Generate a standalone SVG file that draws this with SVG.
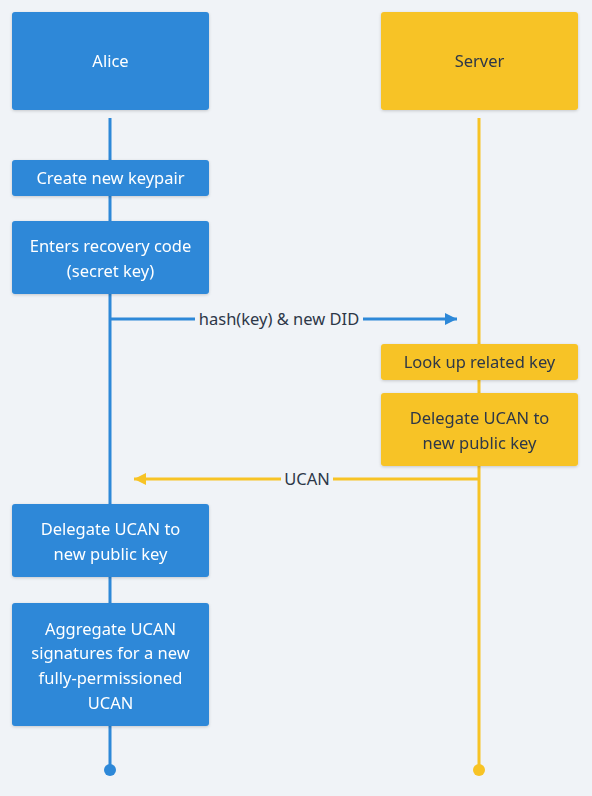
<svg xmlns="http://www.w3.org/2000/svg" width="592" height="796" viewBox="0 0 592 796">
<defs>
<style>
.bg{fill:#F0F3F7}
.a{fill:#2D88D8}
.s{fill:#F7C325}
.box{filter:url(#sh)}
.tw{font-family:"Noto Sans","Liberation Sans",sans-serif;font-size:16.5px;fill:#FFFFFF;text-anchor:middle}
.td{font-family:"Noto Sans","Liberation Sans",sans-serif;font-size:16.5px;fill:#2D3748;text-anchor:middle}
.la{stroke:#2D88D8;stroke-width:3;fill:none}
.ls{stroke:#F7C325;stroke-width:3;fill:none}
</style>
<filter id="sh" x="-10%" y="-10%" width="120%" height="130%">
<feDropShadow dx="0" dy="1" stdDeviation="1.5" flood-color="#000" flood-opacity="0.18"/>
</filter>
<marker id="ma" viewBox="0 0 10 10" refX="10" refY="5" markerWidth="4" markerHeight="4" orient="auto" markerUnits="strokeWidth"><path d="M0,0 L10,5 L0,10 z" fill="#2D88D8"/></marker>
<marker id="ms" viewBox="0 0 10 10" refX="10" refY="5" markerWidth="4" markerHeight="4" orient="auto" markerUnits="strokeWidth"><path d="M0,0 L10,5 L0,10 z" fill="#F7C325"/></marker>
</defs>
<rect class="bg" x="0" y="0" width="592" height="796"/>
<g id="connectors">
<line class="la" x1="110" y1="118" x2="110" y2="770"/>
<circle cx="110" cy="770" r="6" class="a"/>
<line class="ls" x1="479" y1="118" x2="479" y2="770"/>
<circle cx="479" cy="770" r="6" class="s"/>
<g id="msg1">
<line class="la" x1="110" y1="319" x2="457" y2="319" marker-end="url(#ma)"/>
<rect class="bg" x="195" y="308" width="168" height="22"/>
<text class="td" x="279" y="325">hash(key) &amp; new DID</text>
</g>
<g id="msg2">
<line class="ls" x1="479" y1="479" x2="134" y2="479" marker-end="url(#ms)"/>
<rect class="bg" x="281" y="468" width="52" height="22"/>
<text class="td" x="307" y="485">UCAN</text>
</g>
</g>
<g id="alice" class="box"><rect class="a" x="12" y="12" width="197" height="98" rx="3"/><text class="tw" x="110.5" y="67">Alice</text></g>
<g id="server" class="box"><rect class="s" x="381" y="12" width="197" height="98" rx="3"/><text class="td" x="479.5" y="67">Server</text></g>
<g id="a1" class="box"><rect class="a" x="12" y="160" width="197" height="36" rx="3"/><text class="tw" x="110.5" y="184">Create new keypair</text></g>
<g id="a2" class="box"><rect class="a" x="12" y="221" width="197" height="73" rx="3"/><text class="tw" x="110.5" y="252">Enters recovery code</text><text class="tw" x="110.5" y="276.5">(secret key)</text></g>
<g id="s1" class="box"><rect class="s" x="381" y="344" width="197" height="36" rx="3"/><text class="td" x="479.5" y="368">Look up related key</text></g>
<g id="s2" class="box"><rect class="s" x="381" y="393" width="197" height="73" rx="3"/><text class="td" x="479.5" y="424">Delegate UCAN to</text><text class="td" x="479.5" y="448.5">new public key</text></g>
<g id="a3" class="box"><rect class="a" x="12" y="504" width="197" height="73" rx="3"/><text class="tw" x="110.5" y="535">Delegate UCAN to</text><text class="tw" x="110.5" y="559.5">new public key</text></g>
<g id="a4" class="box"><rect class="a" x="12" y="603" width="197" height="123" rx="3"/><text class="tw" x="110.5" y="634.5">Aggregate UCAN</text><text class="tw" x="110.5" y="659">signatures for a new</text><text class="tw" x="110.5" y="684">fully-permissioned</text><text class="tw" x="110.5" y="708.5">UCAN</text></g>
</svg>
